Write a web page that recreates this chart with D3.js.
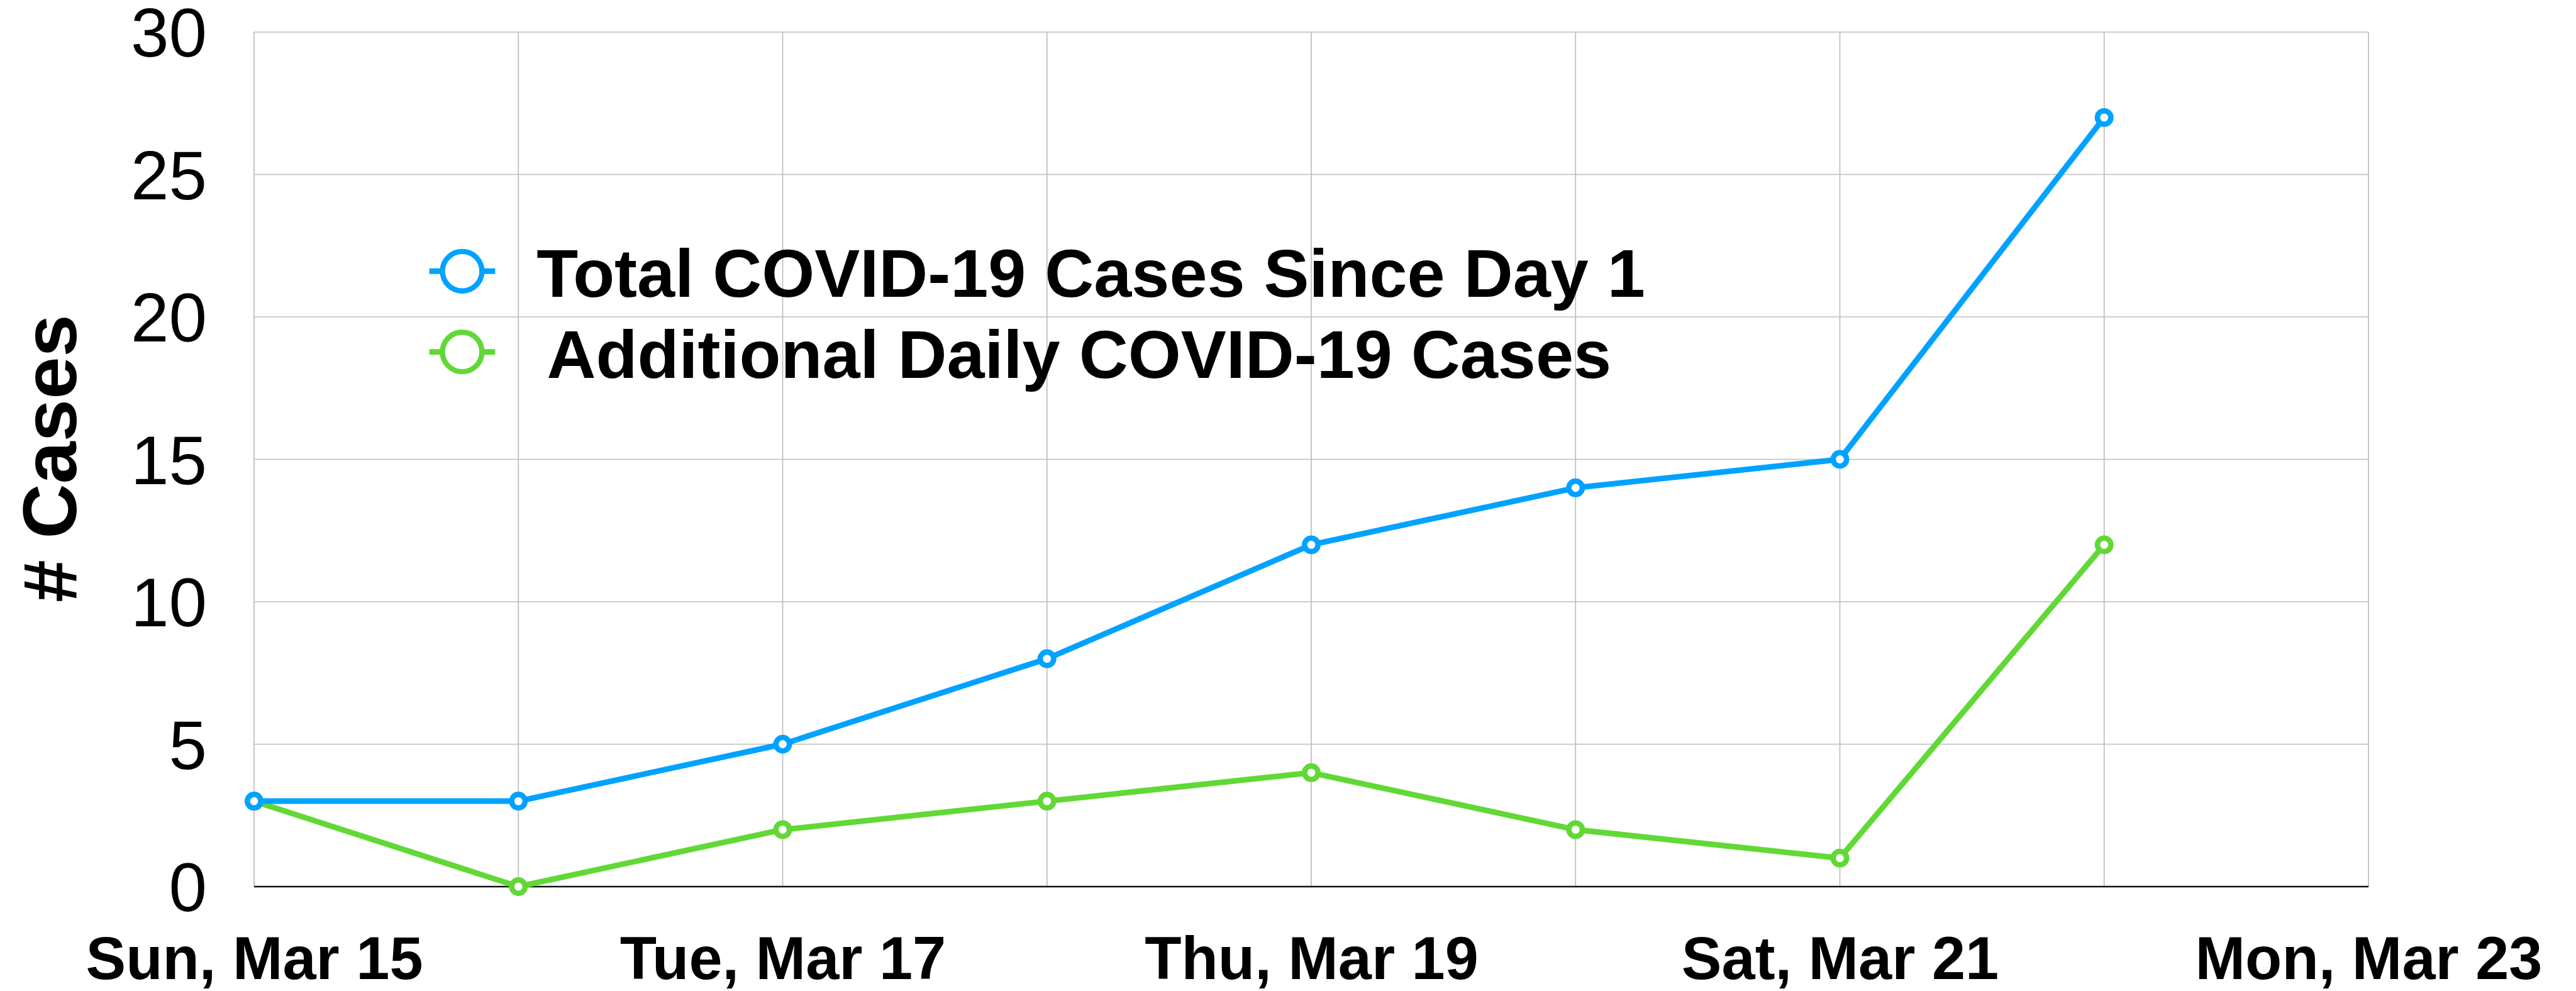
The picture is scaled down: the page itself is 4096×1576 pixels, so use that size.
<!DOCTYPE html>
<html>
<head>
<meta charset="utf-8">
<script src="https://cdn.jsdelivr.net/npm/d3@7"></script>
<style>
  html, body { margin: 0; padding: 0; background: #fff; }
  svg { display: block; }
</style>
</head>
<body>
<div id="chart"></div>
<script>
// chart data
const days = ["2020-03-15", "2020-03-16", "2020-03-17", "2020-03-18",
              "2020-03-19", "2020-03-20", "2020-03-21", "2020-03-22"];
const totalCases = [3, 3, 5, 8, 12, 14, 15, 27];
const dailyCases = [3, 0, 2, 3, 4, 2, 1, 12];
const seriesNames = ["Total COVID-19 Cases Since Day 1", "Additional Daily COVID-19 Cases"];
const xStart = "2020-03-15", xEnd = "2020-03-23";
const xTickLabels = ["Sun, Mar 15", "Tue, Mar 17", "Thu, Mar 19", "Sat, Mar 21", "Mon, Mar 23"];
const yTicks = [0, 5, 10, 15, 20, 25, 30];
const yTitle = "# Cases";

const colors = ["#00a2ff", "#61d836"];

document.addEventListener('DOMContentLoaded', () => {
  drawChart();
});

function drawChart() {
  const width = 4096, height = 1576;
  const margin = { top: 51, right: 330, bottom: 166, left: 404 };
  const font = "'Liberation Sans', Arial, Helvetica, sans-serif";

  const parse = d3.timeParse("%Y-%m-%d");
  const dates = days.map(parse);

  const x = d3.scaleTime()
    .domain([parse(xStart), parse(xEnd)])
    .range([margin.left, width - margin.right]);

  const y = d3.scaleLinear()
    .domain([0, 30])
    .range([height - margin.bottom, margin.top]);

  const svg = d3.select("#chart").append("svg")
    .attr("width", width)
    .attr("height", height)
    .style("background", "#fff");

  // grid
  const grid = svg.append("g")
    .attr("stroke", "#bdbdbd")
    .attr("stroke-width", 1.7);

  grid.selectAll(".vgrid")
    .data(d3.timeDay.range(parse(xStart), d3.timeDay.offset(parse(xEnd), 1)))
    .join("line")
    .attr("class", "vgrid")
    .attr("x1", d => x(d)).attr("x2", d => x(d))
    .attr("y1", y(30)).attr("y2", y(0));

  grid.selectAll(".hgrid")
    .data(yTicks.filter(d => d > 0))
    .join("line")
    .attr("class", "hgrid")
    .attr("x1", x.range()[0]).attr("x2", x.range()[1])
    .attr("y1", d => y(d)).attr("y2", d => y(d));

  // baseline
  svg.append("line")
    .attr("x1", x.range()[0]).attr("x2", x.range()[1])
    .attr("y1", y(0)).attr("y2", y(0))
    .attr("stroke", "#111")
    .attr("stroke-width", 2.4);

  // y axis labels
  const yFont = 108.8;
  const yAxis = g => g
    .attr("transform", `translate(${margin.left},0)`)
    .call(d3.axisLeft(y).tickValues(yTicks).tickSize(0).tickPadding(0))
    .call(g => g.select(".domain").remove())
    .call(g => g.selectAll("text")
      .attr("x", -75)
      .attr("dy", null)
      .attr("y", yFont * 0.358)
      .attr("fill", "#000")
      .style("font", `${yFont}px ${font}`));
  svg.append("g").call(yAxis);

  // x axis labels
  const labelDates = d3.timeDay.every(2).range(parse(xStart), d3.timeDay.offset(parse(xEnd), 1));
  const xAxis = g => g
    .attr("transform", `translate(0,${y(0)})`)
    .call(d3.axisBottom(x).tickValues(labelDates).tickFormat((d, i) => xTickLabels[i]).tickSize(0))
    .call(g => g.select(".domain").remove())
    .call(g => g.selectAll("text")
      .attr("y", 146.5)
      .attr("dy", null)
      .attr("fill", "#000")
      .style("font", `bold 95.5px ${font}`));
  svg.append("g").call(xAxis);

  // y title
  svg.append("text")
    .attr("transform", `translate(121,729) rotate(-90)`)
    .attr("text-anchor", "middle")
    .style("font", `bold 121px ${font}`)
    .attr("fill", "#000")
    .text(yTitle);

  // series
  const series = [
    { name: seriesNames[1], values: dailyCases, color: colors[1] },
    { name: seriesNames[0], values: totalCases, color: colors[0] }
  ];

  const line = d3.line()
    .x((d, i) => x(dates[i]))
    .y(d => y(d));

  series.forEach(s => {
    const g = svg.append("g");
    g.append("path")
      .attr("d", line(s.values))
      .attr("fill", "none")
      .attr("stroke", s.color)
      .attr("stroke-width", 9)
      .attr("stroke-linejoin", "round");
    g.selectAll("circle")
      .data(s.values)
      .join("circle")
      .attr("cx", (d, i) => x(dates[i]))
      .attr("cy", d => y(d))
      .attr("r", 10.7)
      .attr("fill", "#fff")
      .attr("stroke", s.color)
      .attr("stroke-width", 8.6);
  });

  // legend
  const legend = svg.append("g");
  const legendRows = [
    { name: seriesNames[0], color: colors[0], cy: 431.3, tx: 853.2, by: 471.5 },
    { name: seriesNames[1], color: colors[1], cy: 559.7, tx: 869.6, by: 601.2 }
  ];
  legendRows.forEach(r => {
    legend.append("line")
      .attr("x1", 682.7).attr("x2", 787.4)
      .attr("y1", r.cy).attr("y2", r.cy)
      .attr("stroke", r.color)
      .attr("stroke-width", 8.9);
    legend.append("circle")
      .attr("cx", 734.9).attr("cy", r.cy)
      .attr("r", 31.4)
      .attr("fill", "#fff")
      .attr("stroke", r.color)
      .attr("stroke-width", 8.4);
    legend.append("text")
      .attr("x", r.tx).attr("y", r.by)
      .style("font", `bold 108px ${font}`)
      .attr("fill", "#000")
      .text(r.name);
  });
}
</script>
</body>
</html>
